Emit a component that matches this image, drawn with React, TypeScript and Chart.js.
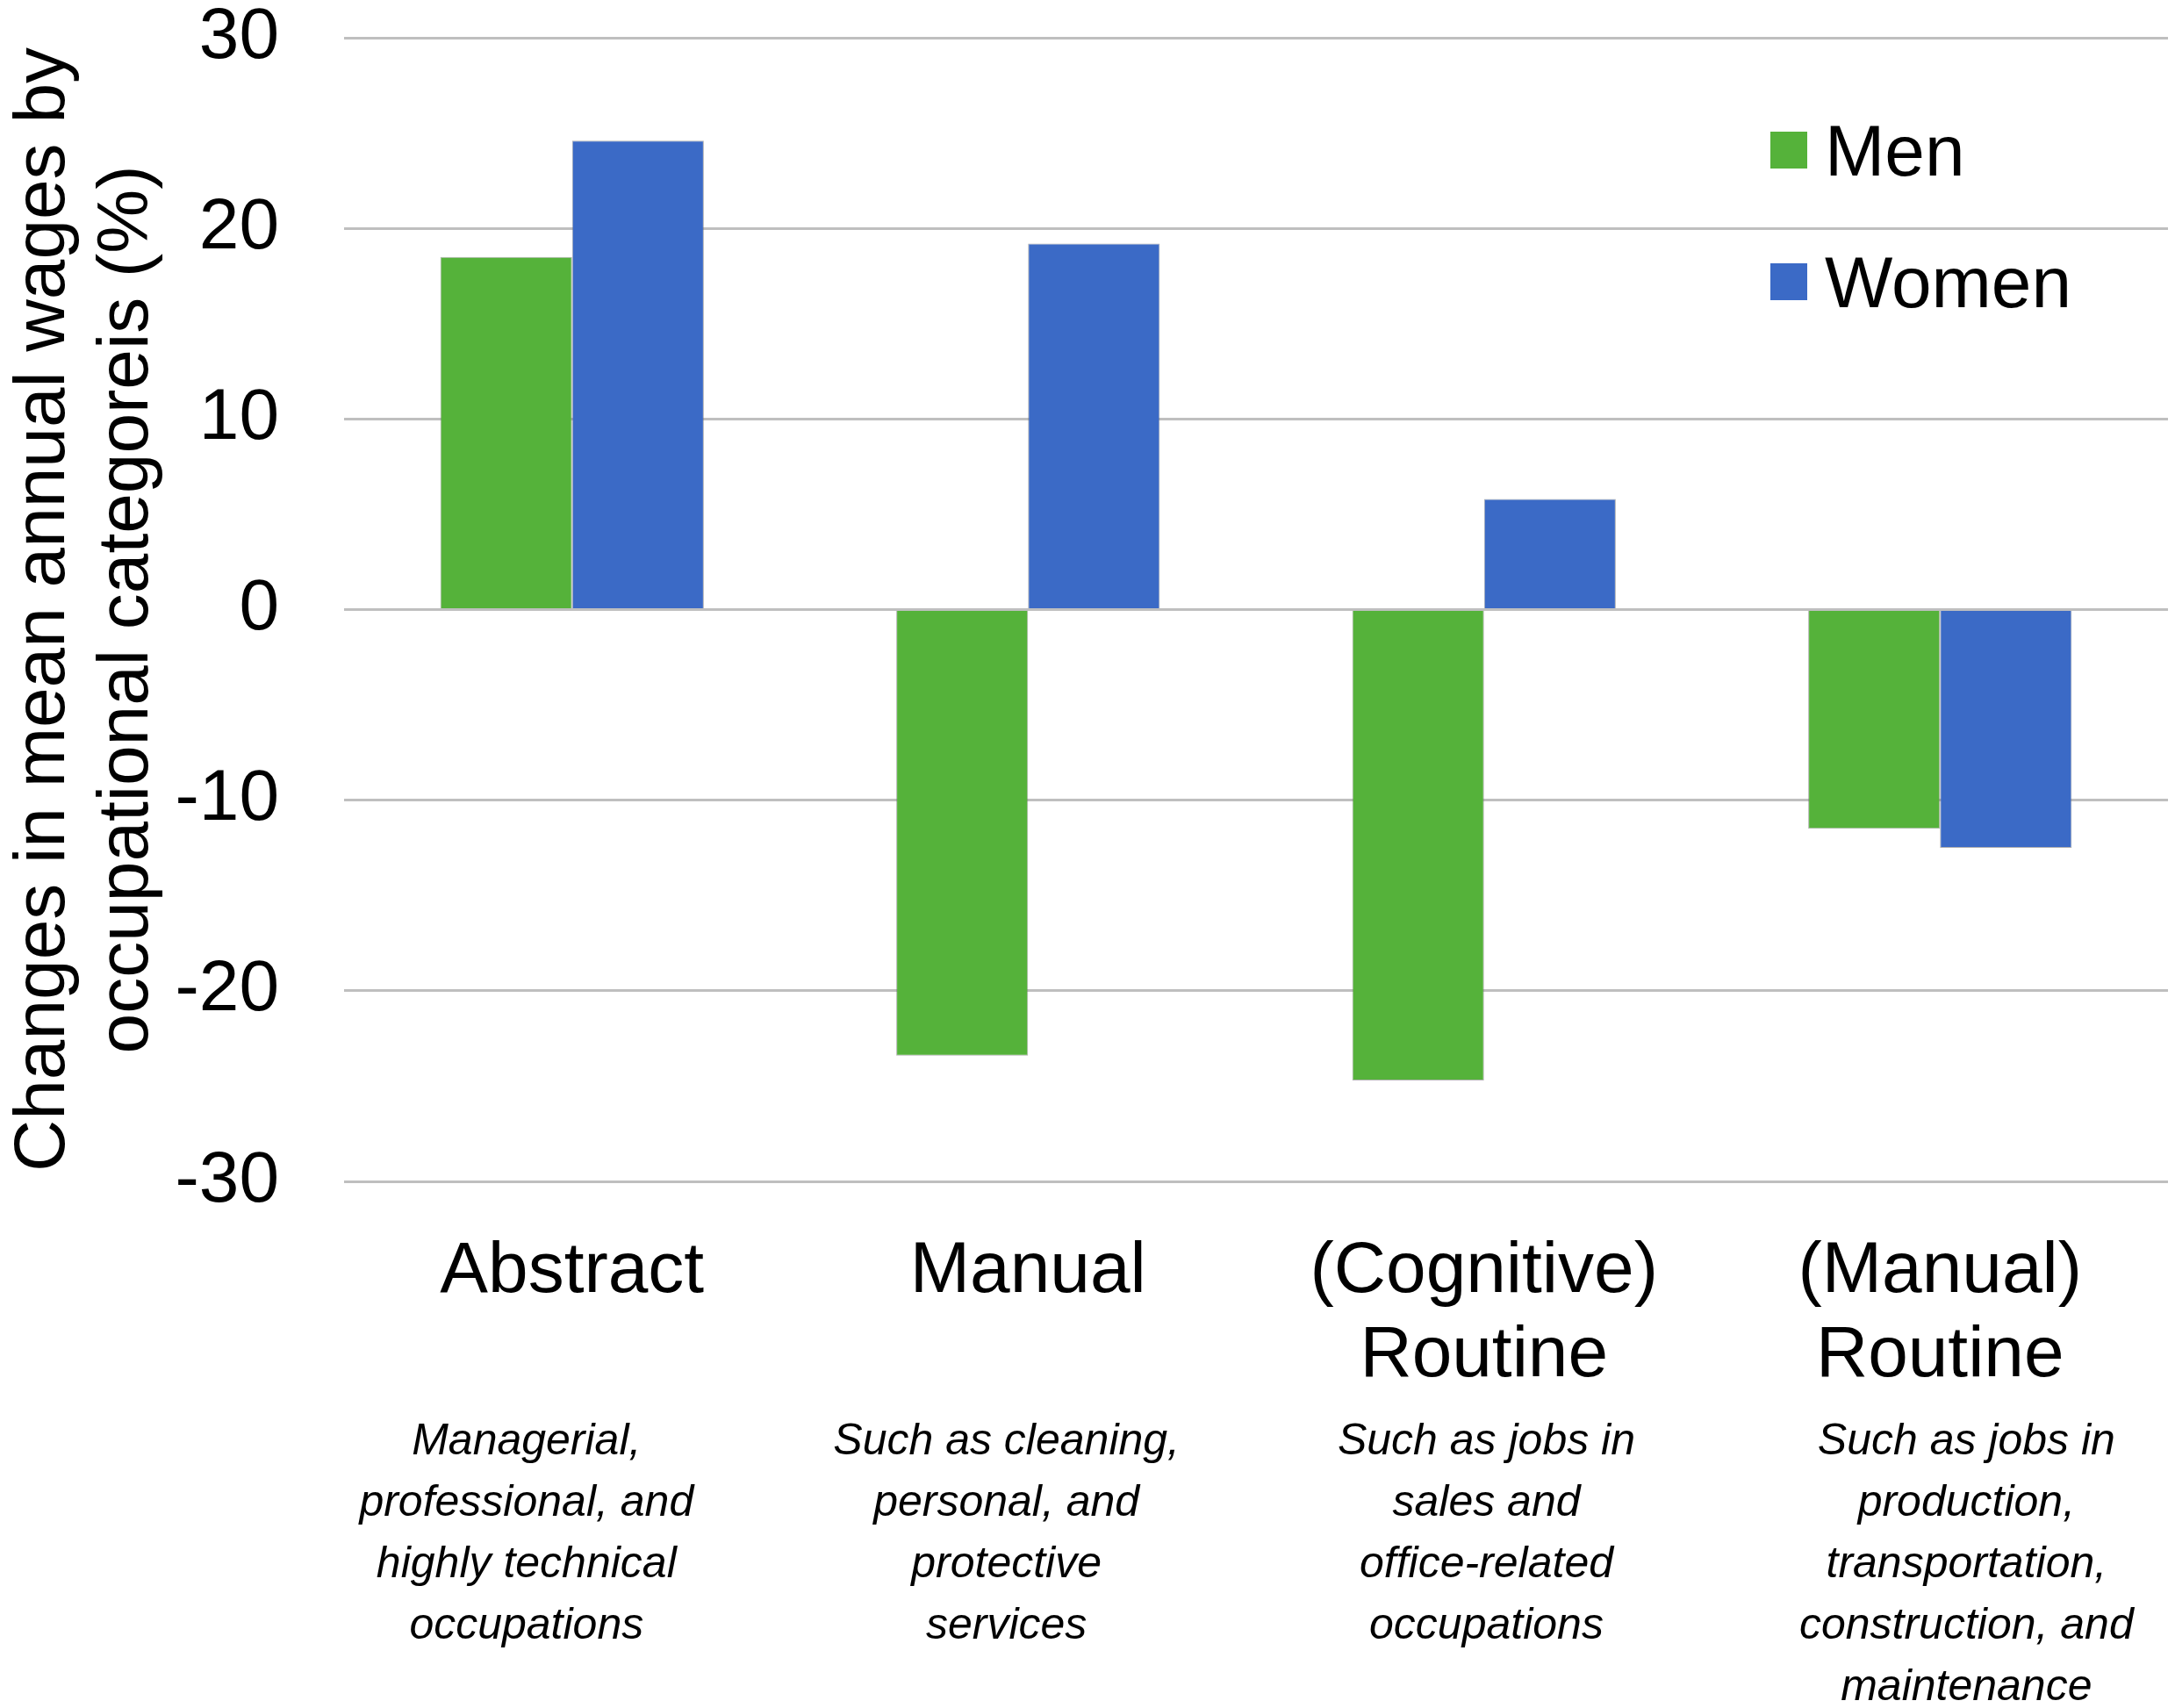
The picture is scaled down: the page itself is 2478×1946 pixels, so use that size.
import React, { useEffect, useRef } from "react";
import { Chart, registerables } from "chart.js";

Chart.register(...registerables);

// ---- Data ----
const categories: string[][] = [
  ["Abstract"],
  ["Manual"],
  ["(Cognitive)", "Routine"],
  ["(Manual)", "Routine"],
];

const descriptions: string[][] = [
  ["Managerial,", "professional, and", "highly technical", "occupations"],
  ["Such as cleaning,", "personal, and", "protective", "services"],
  ["Such as jobs in", "sales and", "office-related", "occupations"],
  ["Such as jobs in", "production,", "transportation,", "construction, and", "maintenance"],
];

const seriesNames = ["Men", "Women"];
const menValues = [18.5, -23.4, -24.7, -11.5];
const womenValues = [24.6, 19.2, 5.8, -12.5];

const yMin = -30;
const yMax = 30;
const yStep = 10;
const yTitle = ["Changes in mean annual wages by", "occupational categoreis (%)"];

// ---- Styles ----
const FONT = '"Liberation Sans", Arial, Helvetica, sans-serif';
const GREEN = "#55b23a";
const BLUE = "#3b6ac6";
const GRID = "#bfbfbf";
// range of the description axis (text boxes are spread a little wider than the categories)
const DESC_MIN = -0.38;
const DESC_MAX = 3.42;

const legendPlugin = {
  id: "customLegend",
  afterDraw(chart: any) {
    const { ctx, chartArea } = chart;
    const box = 42;
    const x = chartArea.right - 453;
    ctx.save();
    ctx.font = `82px ${FONT}`;
    ctx.textBaseline = "middle";
    ctx.textAlign = "left";
    chart.data.datasets.forEach((ds: any, i: number) => {
      const y = chartArea.top + 134 + i * 150;
      ctx.fillStyle = ds.backgroundColor;
      ctx.fillRect(x, y - 6 - box / 2, box, box);
      ctx.fillStyle = "#000";
      ctx.fillText(ds.label, x + box + 20, y);
    });
    ctx.restore();
  },
};

export default function App() {
  const canvasRef = useRef<HTMLCanvasElement | null>(null);

  useEffect(() => {
    document.body.style.margin = "0";
    document.body.style.overflow = "hidden";
    document.documentElement.style.overflow = "hidden";
    const canvas = canvasRef.current;
    if (!canvas) return;

    const chart = new Chart(canvas, {
      type: "bar",
      data: {
        labels: categories,
        datasets: [
          {
            label: seriesNames[0],
            data: menValues,
            backgroundColor: GREEN,
            borderColor: "rgba(110,110,110,0.55)",
            borderWidth: 1,
            categoryPercentage: 0.578,
            barPercentage: 1,
          },
          {
            label: seriesNames[1],
            data: womenValues,
            backgroundColor: BLUE,
            borderColor: "rgba(110,110,110,0.55)",
            borderWidth: 1,
            categoryPercentage: 0.578,
            barPercentage: 1,
          },
        ],
      },
      options: {
        responsive: false,
        animation: false,
        devicePixelRatio: 1,
        layout: { padding: { left: 0, right: 8, top: 43, bottom: 0 } },
        plugins: {
          legend: { display: false },
          tooltip: { enabled: false },
          title: { display: false },
        },
        scales: {
          y: {
            min: yMin,
            max: yMax,
            ticks: {
              stepSize: yStep,
              padding: 74,
              color: "#000",
              font: { family: FONT, size: 82, lineHeight: 1 },
              callback: (v: any) => String(v),
            },
            grid: { color: GRID, lineWidth: 3, drawTicks: false },
            border: { display: false },
            title: {
              display: true,
              text: yTitle,
              color: "#000",
              font: { family: FONT, size: 82, lineHeight: 1.16 },
              padding: { top: 3, bottom: 0 },
            },
            afterFit: (s: any) => {
              s.width = 392;
              s.paddingTop = 0;
              s.paddingBottom = 0;
            },
          },
          x: {
            type: "category",
            position: "bottom",
            offset: true,
            grid: { display: false, drawTicks: false },
            border: { display: false },
            ticks: {
              padding: 55,
              color: "#000",
              autoSkip: false,
              maxRotation: 0,
              font: { family: FONT, size: 82, lineHeight: 1.17 },
            },
            afterFit: (s: any) => {
              s.height = 246;
              s.paddingLeft = 0;
              s.paddingRight = 0;
            },
          },
          x2: {
            type: "linear",
            position: "bottom",
            bounds: "data",
            offset: false,
            min: DESC_MIN,
            max: DESC_MAX,
            grid: { display: false, drawTicks: false, offset: false },
            border: { display: false },
            afterBuildTicks: (s: any) => {
              s.ticks = descriptions.map((_, i) => ({ value: i }));
              s.min = DESC_MIN;
              s.max = DESC_MAX;
            },
            ticks: {
              padding: 16,
              color: "#000",
              autoSkip: false,
              maxRotation: 0,
              font: { family: FONT, size: 50, style: "italic", lineHeight: 1.4 },
              callback: (_v: any, i: number) => descriptions[i],
            },
            afterFit: (s: any) => {
              s.height = 354;
              s.paddingLeft = 0;
              s.paddingRight = 0;
            },
          },
        },
      } as any,
      plugins: [legendPlugin],
    });

    return () => chart.destroy();
  }, []);

  return (
    <canvas
      ref={canvasRef}
      width={2478}
      height={1946}
      style={{ display: "block", width: 2478, height: 1946 }}
    />
  );
}
